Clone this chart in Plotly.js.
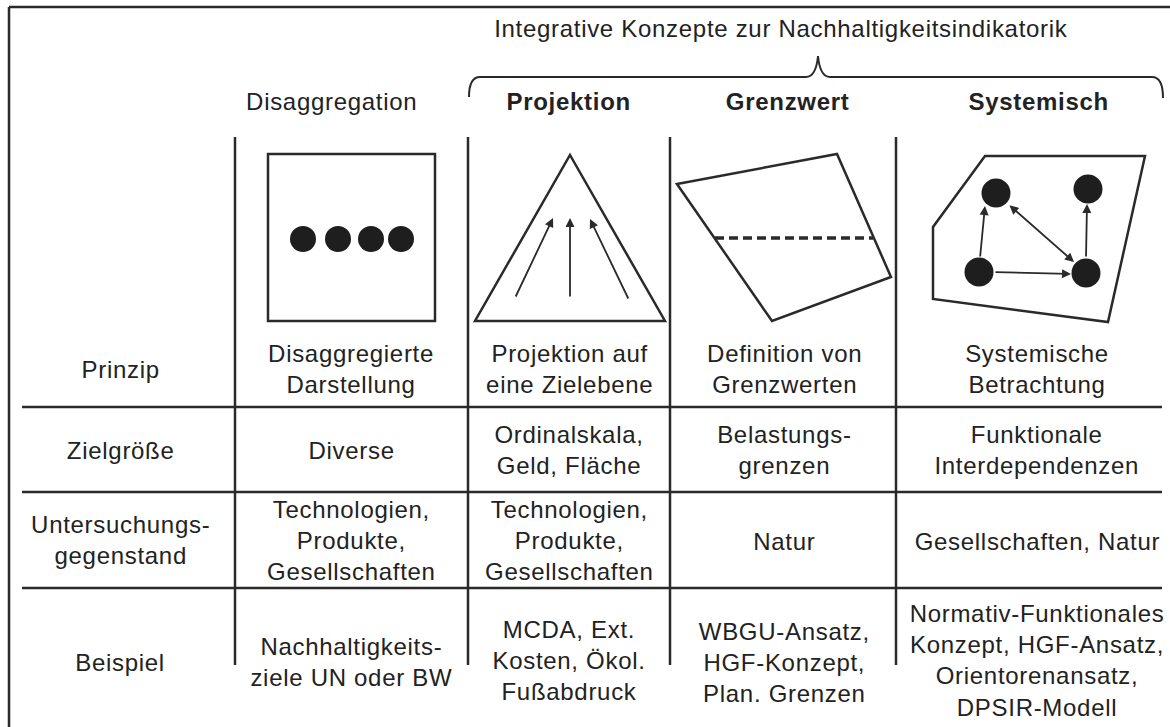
<!DOCTYPE html>
<html>
<head>
<meta charset="utf-8">
<script src="https://cdn.plot.ly/plotly-3.0.1.min.js"></script>
<style>
html,body{margin:0;padding:0;background:#fff;}
#chart{width:1170px;height:727px;}
#chart .annotation-text{letter-spacing:0.7px;}
</style>
</head>
<body>
<div id="chart"></div>
<script>
// ---- content (texts of the diagram) ----
const groupTitle = 'Integrative Konzepte zur Nachhaltigkeitsindikatorik';
const concepts = ['Disaggregation', 'Projektion', 'Grenzwert', 'Systemisch'];
const conceptBold = [false, true, true, true];
const rowLabels = ['Prinzip', 'Zielgröße', 'Untersuchungs-<br>gegenstand', 'Beispiel'];
const principle = ['Disaggregierte<br>Darstellung', 'Projektion auf<br>eine Zielebene', 'Definition von<br>Grenzwerten', 'Systemische<br>Betrachtung'];
const target = ['Diverse', 'Ordinalskala,<br>Geld, Fläche', 'Belastungs-<br>grenzen', 'Funktionale<br>Interdependenzen'];
const subject = ['Technologien,<br>Produkte,<br>Gesellschaften', 'Technologien,<br>Produkte,<br>Gesellschaften', 'Natur', 'Gesellschaften, Natur'];
const example = ['Nachhaltigkeits-<br>ziele UN oder BW', 'MCDA, Ext.<br>Kosten, Ökol.<br>Fußabdruck', 'WBGU-Ansatz,<br>HGF-Konzept,<br>Plan. Grenzen', 'Normativ-Funktionales<br>Konzept, HGF-Ansatz,<br>Orientorenansatz,<br>DPSIR-Modell'];
const rows = [principle, target, subject, example];

// ---- layout geometry (pixel coordinates, y downwards) ----
const W = 1170, H = 727;
const FONT = 'Liberation Sans, Arial, sans-serif';
const INK = '#222222';
const LINE = '#2a2a2a';
const labelX = 120;
const colX = [351, 569, 784, 1037];
const headerX = [331, 568, 787, 1038];
const headerY = 101;
const rowY = [369, 450, 540, 662];
const cellY = [[369, 369, 369, 369], [450, 450, 450, 450], [540, 540, 541, 541], [662, 660, 662, 660]];
const vLines = [235, 468, 670, 896];
const vTop = 137, vBottom = 665;
const hLines = [407, 492, 588];
const hLeft = 22, hRight = 1162;

const shapes = [];
const annotations = [];
const lineStyle = {color: LINE, width: 2.5};

// frame (top and left)
shapes.push({type: 'line', x0: 9, y0: 7, x1: W, y1: 7, line: lineStyle});
shapes.push({type: 'line', x0: 9, y0: 7, x1: 9, y1: H, line: lineStyle});
// grid
vLines.forEach(x => shapes.push({type: 'line', x0: x, y0: vTop, x1: x, y1: vBottom, line: lineStyle}));
hLines.forEach(y => shapes.push({type: 'line', x0: hLeft, y0: y, x1: hRight, y1: y, line: lineStyle}));
// bracket
shapes.push({type: 'path', path: 'M 469,97 Q 469,77 480,77 L 806,77 Q 816,77 818,56 Q 820,77 830,77 L 1152,77 Q 1163,77 1163,98',
  line: {color: LINE, width: 2}});

// icon 1: square with dots
shapes.push({type: 'rect', x0: 268, y0: 154, x1: 435, y1: 321, line: lineStyle});
// icon 2: triangle
shapes.push({type: 'path', path: 'M 570,155 L 665,321 L 475,321 Z', line: lineStyle});
// icon 3: quadrilateral + dashed threshold
shapes.push({type: 'path', path: 'M 677,184 L 837,154 L 891,277 L 772,321 Z', line: lineStyle});
shapes.push({type: 'line', x0: 715, y0: 238, x1: 873, y1: 238, line: {color: LINE, width: 3.5, dash: '9px,5px'}});
// icon 4: polygon
shapes.push({type: 'path', path: 'M 985,156 L 1145,156 L 1108,322 L 933,299 L 933,227 Z', line: lineStyle});

// arrows (tail -> head)
const arrows = [
  [515, 298, 553, 218, false], [570, 298, 570, 218, false], [629, 300, 590, 219, false],
  [980, 258, 985, 206, false], [1008, 204, 1074, 262, true], [994, 272, 1071, 274, false], [1086, 258, 1087, 204, false]
];
arrows.forEach(a => annotations.push({
  x: a[2], y: a[3], ax: a[0], ay: a[1], xref: 'x', yref: 'y', axref: 'x', ayref: 'y',
  text: '', showarrow: true, arrowhead: 2, arrowsize: 1, arrowwidth: 1.8, arrowcolor: LINE,
  arrowside: a[4] ? 'end+start' : 'end', startarrowhead: 2, startarrowsize: 1, standoff: 0, startstandoff: 0
}));

// texts
const txt = (x, y, t, bold) => annotations.push({
  x: x, y: y, xref: 'x', yref: 'y', text: bold ? '<b>' + t + '</b>' : t, showarrow: false,
  xanchor: 'center', yanchor: 'middle', align: 'center',
  font: {family: FONT, size: 24, color: INK}
});
txt(781, 28, groupTitle, false);
concepts.forEach((c, i) => txt(headerX[i], headerY, c, conceptBold[i]));
rowLabels.forEach((r, i) => txt(labelX, rowY[i], r, false));
rows.forEach((row, r) => row.forEach((cell, c) => txt(colX[c], cellY[r][c], cell, false)));

// dots (markers)
const dotX = [303, 338, 371, 401];
const dotY = [239, 239, 239, 239];
const netX = [996, 1088, 979, 1086];
const netY = [193, 189, 272, 273];
const traces = [
  {x: dotX, y: dotY, mode: 'markers', type: 'scatter', hoverinfo: 'skip',
   marker: {size: 26, color: '#1e1e1e', line: {width: 0}}},
  {x: netX, y: netY, mode: 'markers', type: 'scatter', hoverinfo: 'skip',
   marker: {size: 29, color: '#1e1e1e', line: {width: 0}}}
];

const layout = {
  width: W, height: H, margin: {l: 0, r: 0, t: 0, b: 0}, showlegend: false,
  paper_bgcolor: '#ffffff', plot_bgcolor: '#ffffff',
  xaxis: {range: [0, W], visible: false, fixedrange: true},
  yaxis: {range: [H, 0], visible: false, fixedrange: true},
  shapes: shapes, annotations: annotations
};
Plotly.newPlot('chart', traces, layout, {staticPlot: true, displayModeBar: false});
</script>
</body>
</html>
